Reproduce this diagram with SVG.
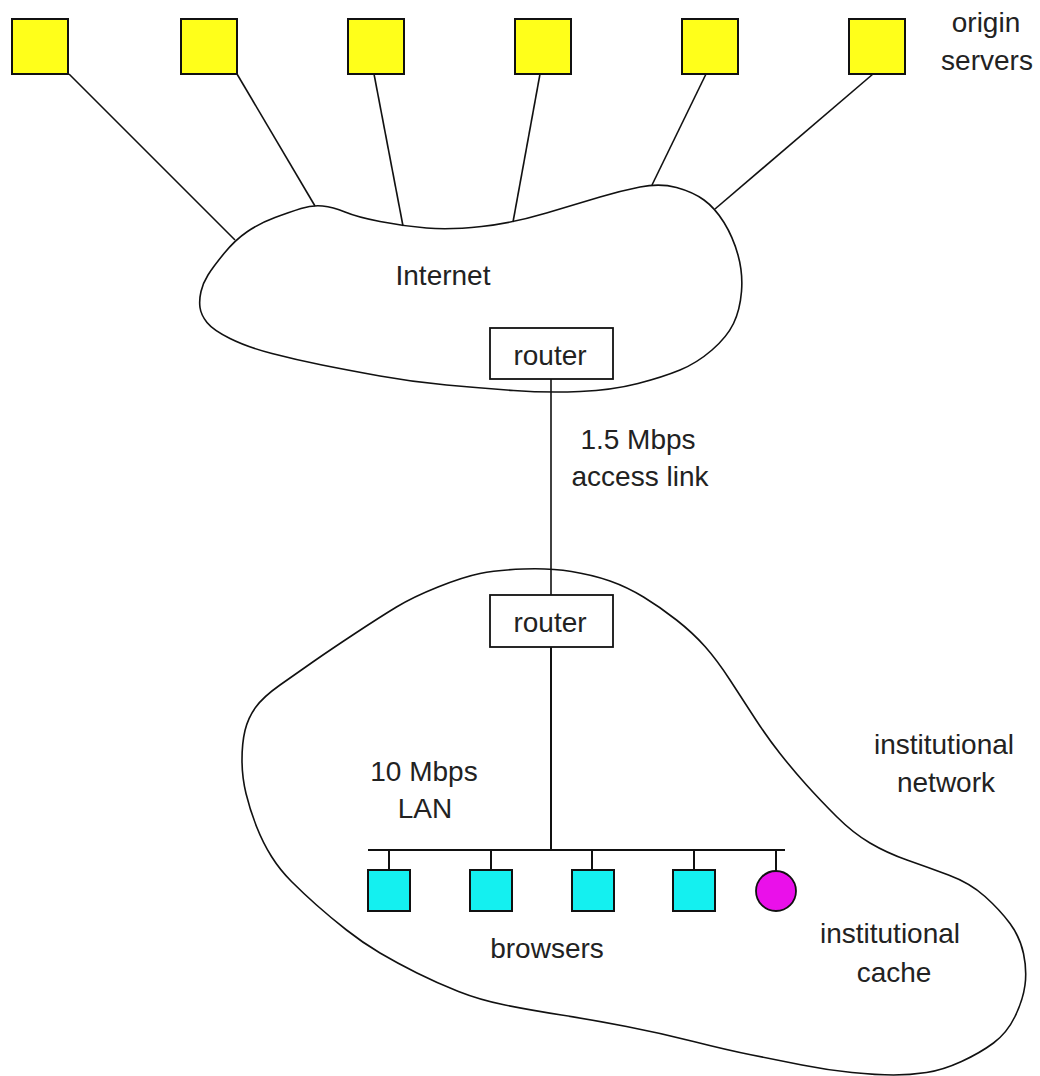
<svg xmlns="http://www.w3.org/2000/svg" width="1040" height="1076" viewBox="0 0 1040 1076">
<style>
  .cloud{fill:none;stroke:#111;stroke-width:1.6;stroke-linejoin:round}
  .link{stroke:#111;stroke-width:1.6;fill:none}
  .bus{stroke:#111;stroke-width:2;fill:none}
  .server{fill:#ffff1a;stroke:#111;stroke-width:2}
  .browser{fill:#14f0f0;stroke:#111;stroke-width:2}
  .cache{fill:#ea10ea;stroke:#111;stroke-width:1.8}
  .router{fill:#fff;stroke:#111;stroke-width:1.8}
  text{font-family:"Liberation Sans",Arial,sans-serif;font-size:28px;fill:#222;text-anchor:middle}
</style>
<rect width="1040" height="1076" fill="#fff"/>
<g id="internet">
  <path class="cloud" d="M224,253.5 Q235,240 247.5,231.5 Q260,223 275,217.5 Q290,212 301,208.5 Q312,205 322.5,206 Q333,207 345,212 Q357,217 380,221.5 Q403,226 426.5,228 Q450,230 481.5,226.5 Q513,223 546.5,213 Q580,203 600,197 Q620,191 640,187 Q660,183 676.5,187.5 Q693,192 704,200 Q715,208 724,222.5 Q733,237 738,255 Q743,273 741.5,291.5 Q740,310 733.5,323.5 Q727,337 712,350 Q697,363 680,370 Q663,377 638,383.5 Q613,390 580,391.5 Q547,393 513.5,390.5 Q480,388 446.5,385 Q413,382 380,376 Q347,370 322,365 Q297,360 272,353.5 Q247,347 230,338.5 Q213,330 207,322.5 Q201,315 200,307.5 Q199,300 201,291.5 Q203,283 208,275 Q213,267 224,253.5 Z"/>
  <text x="443" y="285">Internet</text>
</g>
<g id="institutional-network">
  <path class="cloud" d="M571.5,571.5 Q550,568 523.5,569 Q497,570 480,573.5 Q463,577 438,587 Q413,597 396.5,607 Q380,617 355,633.5 Q330,650 313.5,661.5 Q297,673 280,685 Q263,697 255.5,707.5 Q248,718 245,730.5 Q242,743 242,760 Q242,777 246,793.5 Q250,810 256.5,826.5 Q263,843 271.5,856.5 Q280,870 291.5,881.5 Q303,893 316.5,905 Q330,917 346.5,930 Q363,943 380,953 Q397,963 417,973 Q437,983 458.5,991.5 Q480,1000 505,1005 Q530,1010 561.5,1015 Q593,1020 626.5,1026.5 Q660,1033 693.5,1041.5 Q727,1050 752,1055 Q777,1060 802,1065 Q827,1070 852,1072.5 Q877,1075 893.5,1075 Q910,1075 926.5,1072.5 Q943,1070 961.5,1061.5 Q980,1053 993.5,1043 Q1007,1033 1015,1016.5 Q1023,1000 1025,985 Q1027,970 1023.5,953.5 Q1020,937 1010,923.5 Q1000,910 985,896.5 Q970,883 948.5,875 Q927,867 907,860 Q887,853 870,843 Q853,833 836.5,816.5 Q820,800 806.5,785 Q793,770 780,753.5 Q767,737 755,718.5 Q743,700 730,680 Q717,660 705,646.5 Q693,633 676.5,620 Q660,607 643.5,597 Q627,587 610,581 Q593,575 571.5,571.5 Z"/>
  <text x="944" y="754">institutional</text>
  <text x="946" y="792">network</text>
</g>
<g id="connectors">
  <line class="link" x1="69" y1="74" x2="235" y2="240"/>
  <line class="link" x1="237" y1="74" x2="315" y2="206"/>
  <line class="link" x1="374" y1="74" x2="403" y2="226"/>
  <line class="link" x1="540" y1="74" x2="513" y2="222"/>
  <line class="link" x1="706" y1="74" x2="652" y2="185"/>
  <line class="link" x1="873" y1="74" x2="715" y2="209"/>
  <line class="link" x1="551" y1="379" x2="551" y2="595"/>
  <line class="bus" x1="551" y1="647" x2="551" y2="850"/>
  <line class="bus" x1="368" y1="850" x2="785" y2="850"/>
  <line class="bus" x1="389" y1="850" x2="389" y2="870"/>
  <line class="bus" x1="491" y1="850" x2="491" y2="870"/>
  <line class="bus" x1="592" y1="850" x2="592" y2="870"/>
  <line class="bus" x1="694" y1="850" x2="694" y2="870"/>
  <line class="bus" x1="776" y1="850" x2="776" y2="871"/>
</g>
<g id="origin-servers">
  <rect class="server" x="12" y="19" width="56" height="55"/>
  <rect class="server" x="181" y="19" width="56" height="55"/>
  <rect class="server" x="348" y="19" width="56" height="55"/>
  <rect class="server" x="515" y="19" width="56" height="55"/>
  <rect class="server" x="682" y="19" width="56" height="55"/>
  <rect class="server" x="849" y="19" width="56" height="55"/>
  <text x="986" y="32">origin</text>
  <text x="987" y="70">servers</text>
</g>
<g id="router-top">
  <rect class="router" x="490" y="328" width="123" height="51"/>
  <text x="550" y="365">router</text>
</g>
<g id="access-link-label">
  <text x="638" y="449">1.5 Mbps</text>
  <text x="640" y="486">access link</text>
</g>
<g id="router-bottom">
  <rect class="router" x="490" y="595" width="123" height="52"/>
  <text x="550" y="632">router</text>
</g>
<g id="lan-label">
  <text x="424" y="781">10 Mbps</text>
  <text x="425" y="818">LAN</text>
</g>
<g id="browsers">
  <rect class="browser" x="368" y="870" width="42" height="41"/>
  <rect class="browser" x="470" y="870" width="42" height="41"/>
  <rect class="browser" x="572" y="870" width="42" height="41"/>
  <rect class="browser" x="673" y="870" width="42" height="41"/>
  <text x="547" y="958">browsers</text>
</g>
<g id="institutional-cache">
  <circle class="cache" cx="776" cy="891" r="20"/>
  <text x="890" y="943">institutional</text>
  <text x="894" y="982">cache</text>
</g>
</svg>
